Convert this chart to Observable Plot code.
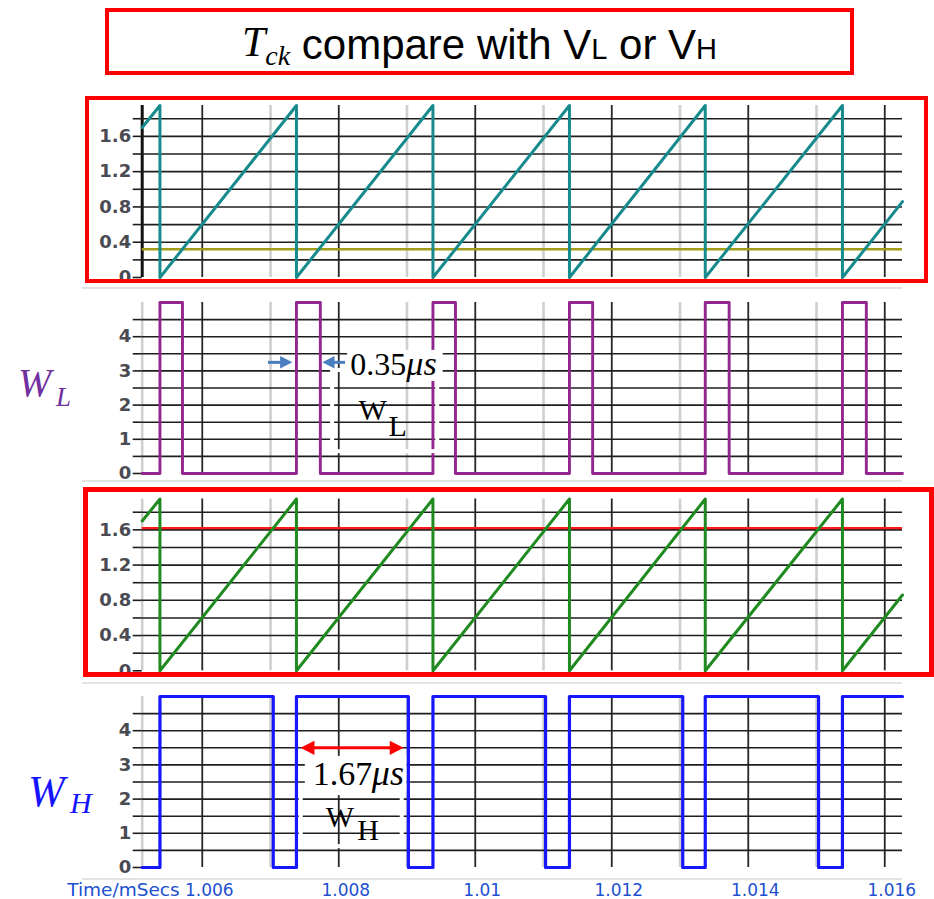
<!DOCTYPE html>
<html><head><meta charset="utf-8">
<script src="https://cdn.jsdelivr.net/npm/d3@7"></script>
<script src="https://cdn.jsdelivr.net/npm/@observablehq/plot@0.6"></script>
<style>
html,body{margin:0;padding:0;background:#fff;}
#root{position:relative;width:934px;height:899px;overflow:hidden;background:#fff;}
.abs{position:absolute;white-space:nowrap;}
.panel{position:absolute;left:0;}
.panel svg{display:block;}
.redbox{position:absolute;box-sizing:border-box;border:4.5px solid #ff0000;z-index:5;}
.sep{position:absolute;left:82px;width:820px;height:2px;background:#e2e2e2;}
</style></head><body><div id="root"></div>
<script>
// ---------- data ----------
const tStart = 1.00512, tEnd = 1.01626;            // ms, visible window
const majorTimes = [1.006, 1.008, 1.010, 1.012, 1.014, 1.016];
const majorTimeLabels = ["1.006", "1.008", "1.01", "1.012", "1.014", "1.016"];
const minorTimes = [1.007, 1.009, 1.011, 1.013, 1.015];
const voltTicks = [0, 0.2, 0.4, 0.6, 0.8, 1.0, 1.2, 1.4, 1.6, 1.8];
const voltLabels = [0, 0.4, 0.8, 1.2, 1.6];
const pulseTicks = [0, 0.5, 1, 1.5, 2, 2.5, 3, 3.5, 4, 4.5];
const pulseLabels = [0, 1, 2, 3, 4];

// sawtooth Tck (same in panels 1 and 3)
const sawTime = [1.00512, 1.00538, 1.00538, 1.00738, 1.00738, 1.00938, 1.00938, 1.01138, 1.01138, 1.01337, 1.01337, 1.01538, 1.01538, 1.01626];
const sawVolt = [1.70, 1.95, 0, 1.95, 0, 1.95, 0, 1.95, 0, 1.95, 0, 1.95, 0, 0.86];
const VL = 0.32, VH = 1.62;

// WL pulse train (step-after)
const wlTime = [1.00512, 1.00538, 1.00571, 1.00738, 1.00773, 1.00938, 1.00971, 1.01138, 1.01172, 1.01337, 1.01372, 1.01538, 1.01573, 1.01626];
const wlLevel = [0, 5, 0, 5, 0, 5, 0, 5, 0, 5, 0, 5, 0, 0];

// WH pulse train (step-after)
const whTime = [1.00512, 1.00538, 1.00704, 1.00738, 1.00902, 1.00938, 1.01103, 1.01138, 1.01304, 1.01337, 1.01503, 1.01538, 1.01626];
const whLevel = [0, 5, 0, 5, 0, 5, 0, 5, 0, 5, 0, 5, 5];

// annotations (time in ms, value in panel units)
const wlArrows = [
  {tail: 1.00697, neck: 1.00718, tip: 1.00732, v: 3.25, rot: 0},
  {tail: 1.00810, neck: 1.00790, tip: 1.00776, v: 3.25, rot: 180}
];
const wlNote = {t: 1.00817, v: 2.87, num: "0.35", unit: "μs"};
const wlNoteBg = {t1: 1.00813, t2: 1.00953, v1: 2.69, v2: 3.60};
const wlBox = {t1: 1.00791, t2: 1.00945, v1: 0.64, v2: 3.01};
const wlSym = [{t: 1.00829, v: 1.55, s: "W"}, {t: 1.00873, v: 1.11, s: "L"}];

const whArrow = {left: 1.00744, right: 1.00895, neckL: 1.00762, neckR: 1.00877, v: 3.5};
const whNote = {t: 1.00762, v: 2.40, num: "1.67", unit: "μs"};
const whNoteBg = {t1: 1.00751, t2: 1.00900, v1: 2.22, v2: 3.25};
const whBox = {t1: 1.00745, t2: 1.00893, v1: 0.61, v2: 2.16};
const whSym = [{t: 1.00781, v: 1.17, s: "W"}, {t: 1.00827, v: 0.79, s: "H"}];

// ---------- tables ----------
const saw = sawTime.map((t, i) => ({t, v: sawVolt[i]}));
const wl = wlTime.map((t, i) => ({t, v: wlLevel[i]}));
const wh = whTime.map((t, i) => ({t, v: whLevel[i]}));

// filled arrow head, tip at origin, pointing right
const tipRight = {
  draw(ctx, size) {
    const r = Math.sqrt(size / Math.PI);
    ctx.moveTo(0, 0);
    ctx.lineTo(-1.85 * r, -0.95 * r);
    ctx.lineTo(-1.85 * r, 0.95 * r);
    ctx.closePath();
  }
};

const root = document.getElementById("root");

function panel({top, height, mt, mb, yDomain, gridVals, tickVals, labelVals, leftColor, leftWidth, marks}) {
  const chart = Plot.plot({
    width: 934, height,
    marginLeft: 141.7, marginRight: 32, marginTop: mt, marginBottom: mb,
    x: {domain: [tStart, tEnd], axis: null},
    y: {domain: yDomain, axis: null},
    style: {background: "transparent", overflow: "visible"},
    marks: [
      Plot.ruleX(minorTimes, {stroke: "#cfcfcf", strokeWidth: 2.6}),
      Plot.ruleX(majorTimes, {stroke: "#262626", strokeWidth: 1.8}),
      Plot.ruleX([tStart], {stroke: leftColor, strokeWidth: leftWidth}),
      Plot.ruleY(gridVals, {stroke: "#1e1e1e", strokeWidth: 1.6}),
      Plot.axisY(tickVals, {
        tickSize: 9, tickPadding: 2, stroke: "#1e1e1e", strokeWidth: 1.6,
        tickFormat: d => labelVals.includes(d) ? String(d) : "",
        fontSize: 18, fontFamily: "DejaVu Sans", fontWeight: "bold", fill: "#4a4a52", label: null
      }),
      ...marks
    ]
  });
  const wrap = document.createElement("div");
  wrap.className = "panel";
  wrap.style.top = top + "px";
  wrap.appendChild(chart);
  root.appendChild(wrap);
}

// Panel 1: Tck vs VL
panel({
  top: 96, height: 191, mt: 9, mb: 10, yDomain: [0, 1.95],
  gridVals: voltTicks.filter(d => d > 0), tickVals: voltTicks, labelVals: voltLabels,
  leftColor: "#111", leftWidth: 3,
  marks: [
    Plot.ruleY([VL], {stroke: "#a39c16", strokeWidth: 2.6}),
    Plot.line(saw, {x: "t", y: "v", stroke: "#168a8c", strokeWidth: 3})
  ]
});

// Panel 2: WL
panel({
  top: 287, height: 195, mt: 15, mb: 9, yDomain: [0, 5],
  gridVals: pulseTicks.filter(d => d > 0), tickVals: pulseTicks, labelVals: pulseLabels,
  leftColor: "#cfcfcf", leftWidth: 2.6,
  marks: [
    Plot.line(wl, {x: "t", y: "v", curve: "step-after", stroke: "#93258f", strokeWidth: 2.9}),
    Plot.rect([wlBox], {x1: "t1", x2: "t2", y1: "v1", y2: "v2", fill: "none", stroke: "white", strokeWidth: 4}),
    Plot.rect([wlNoteBg], {x1: "t1", x2: "t2", y1: "v1", y2: "v2", fill: "white"}),
    Plot.ruleY(wlArrows, {x1: "tail", x2: "neck", y: "v", stroke: "#4a7ebf", strokeWidth: 3}),
    Plot.dot(wlArrows, {x: "tip", y: "v", r: 6.6, symbol: tipRight, rotate: "rot", fill: "#4a7ebf", stroke: "none"}),
    Plot.text([wlNote], {x: "t", y: "v", text: "num", textAnchor: "start", lineAnchor: "bottom", fontFamily: "Liberation Serif", fontSize: 32, fill: "#000"}),
    Plot.text([wlNote], {x: "t", y: "v", text: "unit", dx: 56, textAnchor: "start", lineAnchor: "bottom", fontFamily: "Liberation Serif", fontStyle: "italic", fontSize: 34, fill: "#000"}),
    Plot.text(wlSym, {x: "t", y: "v", text: "s", textAnchor: "start", lineAnchor: "bottom", fontFamily: "Liberation Serif", fontSize: 30, fill: "#000"})
  ]
});

// Panel 3: Tck vs VH
panel({
  top: 482, height: 198, mt: 16.5, mb: 9.7, yDomain: [0, 1.95],
  gridVals: voltTicks.filter(d => d > 0), tickVals: voltTicks, labelVals: voltLabels,
  leftColor: "#cfcfcf", leftWidth: 2.6,
  marks: [
    Plot.ruleY([VH], {stroke: "#ff1a1a", strokeWidth: 2.2}),
    Plot.line(saw, {x: "t", y: "v", stroke: "#1f8a1f", strokeWidth: 3})
  ]
});

// Panel 4: WH
panel({
  top: 680, height: 219, mt: 16, mb: 32, yDomain: [0, 5],
  gridVals: pulseTicks.filter(d => d > 0), tickVals: pulseTicks, labelVals: pulseLabels,
  leftColor: "#cfcfcf", leftWidth: 2.6,
  marks: [
    Plot.rect([whBox], {x1: "t1", x2: "t2", y1: "v1", y2: "v2", fill: "none", stroke: "white", strokeWidth: 4}),
    Plot.rect([whNoteBg], {x1: "t1", x2: "t2", y1: "v1", y2: "v2", fill: "white"}),
    Plot.line(wh, {x: "t", y: "v", curve: "step-after", stroke: "#1717ff", strokeWidth: 3.2}),
    Plot.ruleY([whArrow], {x1: "neckL", x2: "neckR", y: "v", stroke: "#ff0000", strokeWidth: 3}),
    Plot.dot([{t: whArrow.left, v: whArrow.v, rot: 180}, {t: whArrow.right, v: whArrow.v, rot: 0}],
      {x: "t", y: "v", r: 7.5, symbol: tipRight, rotate: "rot", fill: "#ff0000", stroke: "none"}),
    Plot.text([whNote], {x: "t", y: "v", text: "num", textAnchor: "start", lineAnchor: "bottom", fontFamily: "Liberation Serif", fontSize: 34, fill: "#000"}),
    Plot.text([whNote], {x: "t", y: "v", text: "unit", dx: 59, textAnchor: "start", lineAnchor: "bottom", fontFamily: "Liberation Serif", fontStyle: "italic", fontSize: 36, fill: "#000"}),
    Plot.text(whSym, {x: "t", y: "v", text: "s", textAnchor: "start", lineAnchor: "bottom", fontFamily: "Liberation Serif", fontSize: 30, fill: "#000"}),
    Plot.axisX(majorTimes, {
      anchor: "bottom", tickSize: 0, tickPadding: 16, dx: 7,
      tickFormat: d => majorTimeLabels[majorTimes.indexOf(d)],
      fontSize: 17, fontFamily: "DejaVu Sans", fill: "#2050d0", label: null
    }),
    Plot.text(["Time/mSecs"], {text: d => d, frameAnchor: "bottom-left", dx: -75, dy: 28, textAnchor: "start", lineAnchor: "bottom", fontSize: 18.5, fontFamily: "DejaVu Sans", fill: "#2050d0"})
  ]
});

// ---------- HTML decorations (title, labels, boxes) ----------
function addDiv(cls, style, html) {
  const d = document.createElement("div");
  d.className = cls;
  Object.assign(d.style, style);
  if (html) d.innerHTML = html;
  root.appendChild(d);
  return d;
}
// separators
[288, 481, 683, 879].forEach(y => addDiv("sep", {top: (y - 1) + "px"}));
// red boxes
addDiv("redbox", {left: "85px", top: "96px", width: "843px", height: "187px"});
addDiv("redbox", {left: "83px", top: "487px", width: "851px", height: "190px", borderWidth: "5px"});
// title box
addDiv("abs", {left: "105px", top: "8px", width: "749px", height: "67px", boxSizing: "border-box", border: "4px solid #ff0000"});
addDiv("abs", {left: "105px", top: "24.4px", width: "749px", height: "42px", font: "42px 'Liberation Sans'", lineHeight: "42px", textAlign: "center", color: "#000"},
  '<span style="font-family:\'Liberation Serif\';font-style:italic;line-height:0;vertical-align:3px">T</span>' +
  '<span style="font-family:\'Liberation Serif\';font-style:italic;font-size:28px;line-height:0;vertical-align:-6px">ck</span>' +
  ' compare with V<span style="font-size:29px;line-height:0">L</span> or V<span style="font-size:29px;line-height:0">H</span>');

// side labels W_L and W_H (baseline placement)
function placeText(txt, left, baseline, size, color) {
  addDiv("abs", {
    left: left + "px", top: (baseline - 0.8375 * size) + "px",
    font: "italic " + size + "px 'Liberation Serif'", lineHeight: size + "px", color
  }, txt);
}
placeText("W", 18, 396, 40, "#7030a0");
placeText("L", 56, 407, 27, "#7030a0");
placeText("W", 28, 807, 44, "#1414ff");
placeText("H", 70, 813, 30, "#1414ff");
</script></body></html>
